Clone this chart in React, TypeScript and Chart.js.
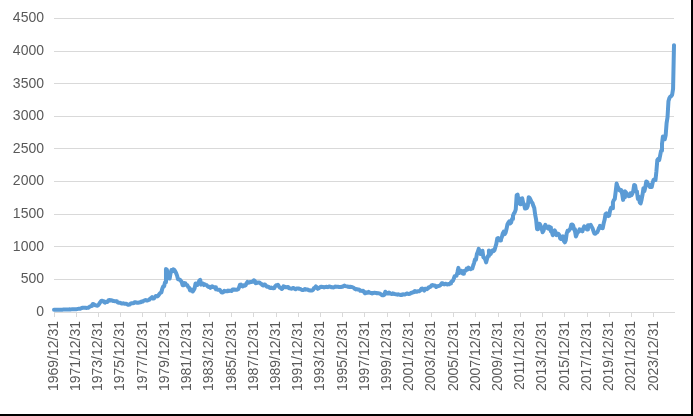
import React, { useEffect, useRef } from "react";
import { Chart, registerables } from "chart.js";

Chart.register(...registerables);

// Monthly gold price (USD/oz), first point = 1969/12
const firstMonth = { year: 1969, month: 12 };

const prices1969 = [35.2];
const prices1970s = [
  34.9, 35.0, 35.1, 35.6, 35.9, 35.4, 35.3, 35.4, 36.2, 37.5, 37.4, 37.4,
  37.9, 38.7, 38.9, 39.0, 40.5, 40.1, 41.0, 42.7, 42.0, 42.5, 42.9, 43.5,
  45.7, 48.3, 48.3, 49.0, 54.6, 62.1, 65.7, 67.0, 65.5, 64.9, 62.9, 63.9,
  65.1, 74.2, 84.4, 90.5, 102.0, 122.5, 120.2, 106.8, 103.0, 100.1, 94.8, 106.5,
  129.2, 150.2, 168.4, 172.2, 163.3, 154.1, 143.0, 154.6, 151.8, 158.8, 181.7, 183.9,
  176.3, 179.6, 178.2, 170.0, 167.4, 164.2, 165.1, 163.0, 144.1, 142.7, 142.2, 139.3,
  131.6, 130.9, 132.6, 127.9, 126.9, 125.8, 117.6, 109.9, 114.4, 116.0, 130.6, 133.6,
  132.3, 136.2, 148.3, 149.2, 146.7, 140.8, 143.4, 145.0, 149.5, 158.6, 162.0, 160.5,
  173.0, 178.0, 183.7, 175.3, 176.3, 183.1, 188.3, 206.1, 212.5, 227.1, 206.0, 207.8,
  227.3, 245.7, 242.1, 239.2, 257.6, 279.1, 294.7, 300.8, 355.1, 391.7, 392.5, 455.1,
];
const prices1980s = [
  660.0, 648.0, 553.6, 517.4, 513.8, 600.7, 644.3, 627.0, 655.0, 645.0, 623.5, 594.9,
  557.4, 500.5, 498.8, 495.8, 479.7, 460.8, 409.3, 410.1, 443.9, 437.8, 413.4, 410.1,
  384.1, 374.2, 330.8, 350.5, 333.9, 314.9, 338.6, 364.2, 438.3, 422.8, 414.8, 444.3,
  481.2, 491.9, 419.7, 432.8, 438.4, 412.9, 422.5, 416.2, 411.7, 393.7, 381.8, 388.1,
  370.9, 386.4, 394.2, 381.4, 377.6, 377.7, 348.2, 347.6, 341.0, 340.2, 341.2, 320.2,
  302.7, 299.1, 304.0, 324.8, 316.6, 316.8, 317.3, 330.2, 323.5, 325.1, 325.3, 321.7,
  345.4, 339.5, 345.7, 340.4, 342.6, 342.7, 348.4, 376.6, 418.0, 423.3, 398.5, 391.3,
  408.2, 401.1, 408.9, 438.3, 460.2, 449.6, 450.6, 460.8, 460.2, 464.3, 467.9, 486.3,
  477.5, 442.1, 443.6, 452.1, 451.5, 451.4, 437.5, 431.9, 413.9, 406.8, 420.2, 418.7,
  404.0, 387.8, 390.2, 384.3, 371.0, 367.6, 375.0, 365.4, 362.6, 366.8, 394.3, 409.4,
];
const prices1990s = [
  410.1, 416.8, 393.1, 374.3, 369.1, 352.3, 362.5, 394.7, 389.3, 380.8, 381.3, 378.2,
  383.7, 363.8, 363.3, 358.4, 356.8, 366.7, 367.7, 356.5, 348.8, 358.7, 359.6, 361.8,
  354.5, 353.9, 344.5, 338.6, 337.2, 340.8, 352.7, 342.9, 345.2, 344.6, 335.0, 334.8,
  329.0, 329.3, 330.1, 342.2, 367.2, 371.9, 392.0, 379.7, 355.5, 364.2, 373.6, 383.3,
  387.0, 382.0, 384.0, 377.3, 381.4, 385.6, 385.5, 380.4, 391.6, 389.8, 384.4, 379.3,
  379.0, 376.4, 381.9, 391.0, 385.4, 387.6, 386.2, 383.7, 383.1, 383.1, 386.0, 387.4,
  400.0, 404.8, 396.2, 392.8, 391.9, 385.3, 383.5, 387.5, 383.1, 381.1, 377.9, 369.3,
  355.0, 346.6, 351.8, 344.5, 343.8, 340.8, 324.1, 323.9, 322.8, 324.9, 306.0, 288.7,
  289.1, 297.5, 295.9, 308.4, 299.1, 292.3, 292.9, 284.1, 288.6, 296.9, 294.1, 291.7,
  287.1, 287.3, 285.8, 282.6, 276.4, 261.3, 256.1, 256.7, 264.7, 310.7, 293.2, 283.1,
];
const prices2000s = [
  284.6, 300.2, 286.8, 280.2, 275.1, 285.7, 281.6, 274.5, 273.7, 270.0, 266.0, 271.5,
  265.5, 261.9, 263.0, 260.5, 272.4, 270.2, 267.5, 272.4, 283.4, 283.1, 276.2, 275.9,
  281.7, 295.5, 294.0, 302.7, 314.5, 321.2, 313.3, 310.3, 319.2, 316.6, 319.2, 333.4,
  356.9, 359.0, 340.6, 328.2, 355.7, 356.4, 351.0, 359.8, 378.9, 378.9, 389.9, 407.6,
  413.8, 404.9, 406.7, 403.0, 383.8, 392.4, 398.1, 400.5, 405.3, 420.5, 439.4, 442.1,
  424.0, 423.4, 434.2, 428.9, 421.9, 430.7, 424.5, 437.9, 456.0, 469.9, 476.7, 509.4,
  549.9, 555.0, 557.1, 610.6, 676.5, 596.2, 633.8, 632.6, 598.2, 585.8, 627.8, 629.8,
  631.2, 664.8, 654.9, 679.4, 666.9, 655.5, 665.3, 665.4, 712.7, 754.6, 806.3, 803.2,
  889.6, 922.3, 968.4, 909.7, 888.7, 889.5, 939.8, 839.0, 829.9, 806.6, 760.9, 816.1,
  858.7, 943.0, 924.3, 890.2, 928.6, 945.7, 934.2, 949.4, 996.6, 1043.2, 1127.0, 1134.7,
];
const prices2010s = [
  1117.9, 1095.4, 1113.3, 1148.7, 1205.4, 1232.9, 1192.6, 1215.8, 1270.9, 1342.0, 1369.9, 1390.6,
  1356.4, 1372.7, 1424.0, 1473.8, 1510.4, 1528.7, 1572.8, 1790.0, 1800.0, 1665.2, 1738.9, 1652.2,
  1656.1, 1742.6, 1673.8, 1650.1, 1585.5, 1596.7, 1593.9, 1626.0, 1760.0, 1746.6, 1721.6, 1684.8,
  1671.9, 1627.6, 1593.1, 1487.9, 1414.0, 1270.0, 1285.5, 1351.7, 1348.6, 1316.6, 1275.8, 1221.5,
  1244.3, 1300.0, 1336.1, 1298.5, 1288.7, 1279.1, 1310.6, 1295.1, 1236.6, 1222.5, 1176.3, 1200.6,
  1250.8, 1227.1, 1178.6, 1198.9, 1198.6, 1181.5, 1128.3, 1117.9, 1124.8, 1159.3, 1086.4, 1068.3,
  1097.9, 1199.5, 1245.1, 1242.3, 1260.9, 1276.4, 1336.7, 1340.2, 1326.6, 1266.6, 1238.4, 1157.4,
  1192.1, 1234.2, 1231.1, 1266.9, 1246.0, 1260.3, 1236.8, 1283.0, 1314.1, 1279.5, 1281.9, 1264.5,
  1331.3, 1330.7, 1324.7, 1334.8, 1303.5, 1281.6, 1238.0, 1201.7, 1198.4, 1215.4, 1220.7, 1250.4,
  1291.8, 1320.1, 1300.9, 1285.9, 1283.7, 1359.0, 1412.9, 1500.4, 1510.6, 1494.8, 1470.0, 1479.1,
];
const prices2020s = [
  1560.7, 1597.1, 1591.9, 1683.2, 1715.9, 1732.2, 1846.5, 1968.6, 1921.9, 1900.3, 1866.3, 1858.4,
  1867.0, 1808.2, 1718.2, 1760.0, 1850.3, 1834.6, 1807.8, 1785.3, 1775.4, 1776.9, 1820.9, 1790.4,
  1816.0, 1856.3, 1947.8, 1936.9, 1848.5, 1836.6, 1732.7, 1764.6, 1680.9, 1664.5, 1725.1, 1797.6,
  1898.4, 1854.6, 1912.7, 1999.9, 1991.8, 1942.9, 1951.0, 1918.5, 1915.8, 1916.5, 1985.9, 2026.6,
  2033.4, 2023.3, 2158.6, 2331.2, 2348.4, 2326.7, 2398.0, 2470.4, 2570.4, 2690.2, 2650.6, 2648.0,
  2707.6, 2895.7, 2984.2, 3229.8, 3278.8, 3300.0, 3310.0, 3330.0, 3420.0, 4090.0,
];

const prices = [
  ...prices1969,
  ...prices1970s,
  ...prices1980s,
  ...prices1990s,
  ...prices2000s,
  ...prices2010s,
  ...prices2020s,
];

// Category labels: end-of-month dates
const pad2 = (n: number) => (n < 10 ? "0" + n : "" + n);
const monthLabels: string[] = prices.map((_, i) => {
  const m0 = firstMonth.month - 1 + i;
  const y = firstMonth.year + Math.floor(m0 / 12);
  const m = (m0 % 12) + 1;
  const d = new Date(y, m, 0).getDate();
  return `${y}/${pad2(m)}/${pad2(d)}`;
});

const tickLabels = [
  "1969/12/31", "1971/12/31", "1973/12/31", "1975/12/31", "1977/12/31",
  "1979/12/31", "1981/12/31", "1983/12/31", "1985/12/31", "1987/12/31",
  "1989/12/31", "1991/12/31", "1993/12/31", "1995/12/31", "1997/12/31",
  "1999/12/31", "2001/12/31", "2003/12/31", "2005/12/31", "2007/12/31",
  "2009/12/31", "2011/12/31", "2013/12/31", "2015/12/31", "2017/12/31",
  "2019/12/31", "2021/12/31", "2023/12/31",
];

const FONT = '"Liberation Sans", Arial, sans-serif';

export default function App() {
  const ref = useRef<HTMLCanvasElement | null>(null);
  useEffect(() => {
    if (!ref.current) return;
    const chart = new Chart(ref.current, {
      type: "line",
      data: {
        labels: monthLabels,
        datasets: [
          {
            data: prices,
            borderColor: "#5B9BD5",
            borderWidth: 4,
            pointRadius: 0,
            tension: 0,
            borderJoinStyle: "round",
            borderCapStyle: "round",
            fill: false,
          },
        ],
      },
      options: {
        animation: false,
        responsive: false,
        maintainAspectRatio: false,
        layout: { padding: { top: 18, right: 17, left: 0, bottom: 0 } },
        plugins: { legend: { display: false }, tooltip: { enabled: false } },
        scales: {
          x: {
            type: "category",
            offset: false,
            grid: {
              display: true,
              drawOnChartArea: false,
              drawTicks: true,
              tickLength: 5,
              color: "#d9d9d9",
            },
            border: { display: true, color: "#d9d9d9" },
            ticks: {
              autoSkip: false,
              maxRotation: 90,
              minRotation: 90,
              padding: 4,
              color: "#595959",
              font: { size: 14, family: FONT },
            },
            afterBuildTicks: (s: any) => {
              s.ticks = s.ticks.filter((t: any) =>
                tickLabels.includes(monthLabels[t.value])
              );
            },
            afterFit: (s: any) => {
              s.height = 102;
            },
          },
          y: {
            min: 0,
            max: 4500,
            ticks: {
              stepSize: 500,
              padding: 10,
              color: "#595959",
              font: { size: 14, family: FONT },
              callback: (v: any) => String(v),
            },
            grid: { color: "#d9d9d9", drawTicks: false },
            border: { display: false },
            afterFit: (s: any) => {
              s.width = 54;
            },
          },
        },
      },
    });
    return () => chart.destroy();
  }, []);

  return (
    <div
      style={{
        position: "fixed",
        left: 0,
        top: 0,
        width: 693,
        height: 416,
        boxSizing: "border-box",
        background: "#fff",
        borderRight: "2px solid #000",
        borderBottom: "2px solid #000",
      }}
    >
      <canvas ref={ref} width={691} height={414} style={{ display: "block" }} />
    </div>
  );
}
